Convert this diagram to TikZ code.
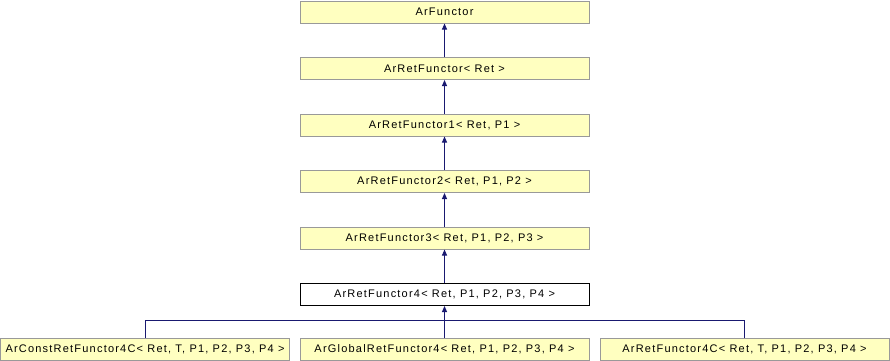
\documentclass[tikz,border=0pt]{standalone}
\usepackage{fontspec}
\setmainfont{Liberation Sans}[LetterSpace=11]
\usetikzlibrary{arrows.meta}
\definecolor{boxfill}{HTML}{FFFFC0}
\definecolor{boxline}{HTML}{999999}
\definecolor{edge}{HTML}{191970}
\tikzset{
  cls/.style={draw=boxline, fill=boxfill, line width=1pt, minimum height=22pt,
    inner sep=0pt, font=\fontsize{11pt}{13pt}\selectfont, anchor=north},
  mid/.style={cls, minimum width=289pt},
  focus/.style={mid, draw=black, fill=white},
  inherit/.style={draw=edge, line width=1pt, -{Triangle[length=6pt,width=5pt]}},
  link/.style={draw=edge, line width=1pt}
}
\begin{document}
\begin{tikzpicture}[x=1pt, y=-1pt]
\useasboundingbox (0,0) rectangle (890,360);
\node[mid]   (f)  at (444.5,0.5)   {ArFunctor};
\node[mid]   (r)  at (444.5,57)  {ArRetFunctor< Ret >};
\node[mid]   (r1) at (444.5,113.5) {ArRetFunctor1< Ret, P1 >};
\node[mid]   (r2) at (444.5,170) {ArRetFunctor2< Ret, P1, P2 >};
\node[mid]   (r3) at (444.5,226.5) {ArRetFunctor3< Ret, P1, P2, P3 >};
\node[focus] (r4) at (444.5,283) {ArRetFunctor4< Ret, P1, P2, P3, P4 >};
\node[cls, minimum width=289pt] (c1) at (145,338) {ArConstRetFunctor4C< Ret, T, P1, P2, P3, P4 >};
\node[mid] (c2) at (444.5,338) {ArGlobalRetFunctor4< Ret, P1, P2, P3, P4 >};
\node[cls, minimum width=289pt] (c3) at (744.5,338) {ArRetFunctor4C< Ret, T, P1, P2, P3, P4 >};
\draw[inherit] (r.north) -- (f.south);
\draw[inherit] (r1.north) -- (r.south);
\draw[inherit] (r2.north) -- (r1.south);
\draw[inherit] (r3.north) -- (r2.south);
\draw[inherit] (r4.north) -- (r3.south);
\coordinate (j) at (444.5,320);
\draw[link] (c1.north) |- (j);
\draw[link] (c3.north) |- (j);
\draw[inherit] (c2.north) -- (r4.south);
\end{tikzpicture}
\end{document}
